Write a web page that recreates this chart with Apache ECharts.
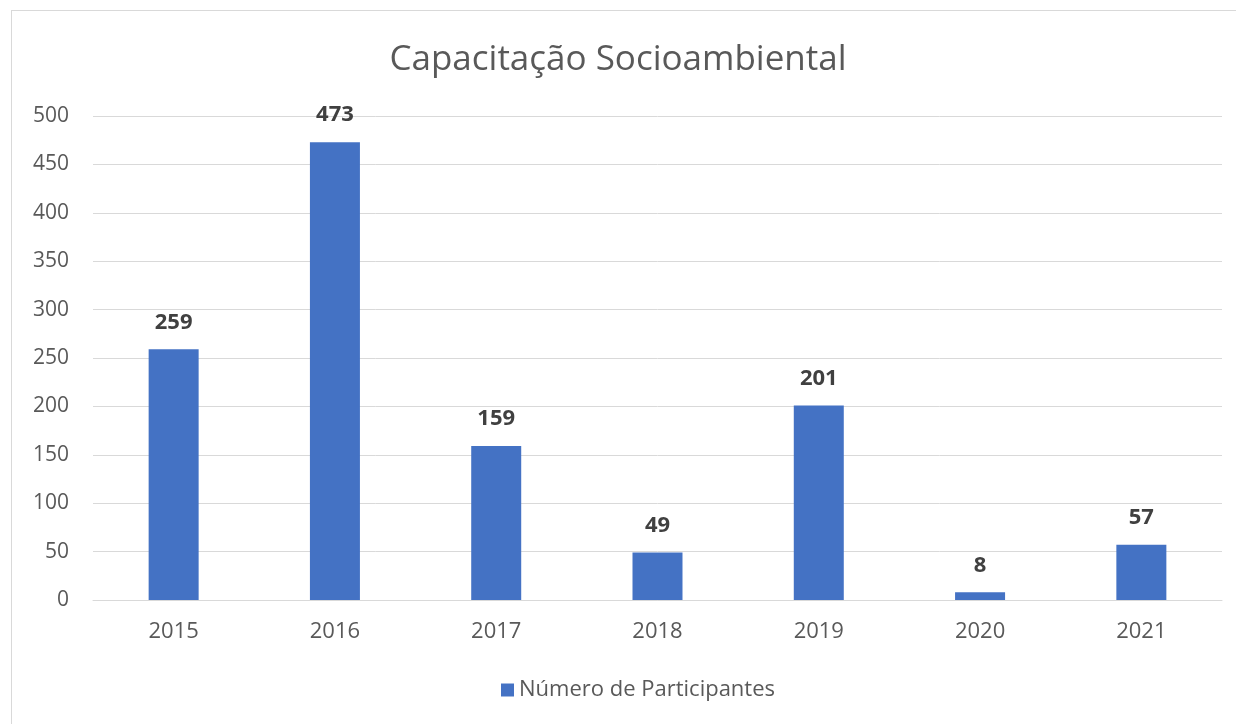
<!DOCTYPE html>
<html><head><meta charset="utf-8">
<script src="https://cdn.jsdelivr.net/npm/echarts@6/dist/echarts.min.js"></script>
<style>
html,body{margin:0;padding:0;background:#fff;overflow:hidden;}
#frame{position:absolute;left:11px;top:10px;width:1240px;height:730px;border-left:1px solid #d9d9d9;border-top:1px solid #d9d9d9;box-sizing:border-box;}
#c{position:absolute;left:0;top:0;width:1236px;height:724px;}
</style></head>
<body>
<div id="frame"></div>
<div id="c"></div>
<script>
const categories = ['2015','2016','2017','2018','2019','2020','2021'];
const participantes = [259, 473, 159, 49, 201, 8, 57];
const seriesName = 'Número de Participantes';
const chartTitle = 'Capacitação Socioambiental';
const font = 'Open Sans, Liberation Sans, sans-serif';

const chart = echarts.init(document.getElementById('c'), null, {renderer:'canvas'});
chart.setOption({
  animation:false,
  backgroundColor:'transparent',
  title:{text:chartTitle,left:'center',top:38,textStyle:{fontFamily:font,fontSize:35,fontWeight:'normal',color:'#595959'}},
  legend:{bottom:18,left:496,itemWidth:13,itemHeight:13,itemGap:8,icon:'rect',
    textStyle:{fontFamily:font,fontSize:22,color:'#595959'},data:[seriesName]},
  grid:{left:93,right:14,top:116,bottom:124,containLabel:false},
  xAxis:{type:'category',data:categories,
    axisLine:{show:true,lineStyle:{color:'#d9d9d9',width:1}},axisTick:{show:false},
    axisLabel:{fontFamily:font,fontSize:22,color:'#595959',margin:21}},
  yAxis:{type:'value',min:0,max:500,interval:50,
    axisLine:{show:false},axisTick:{show:false},
    splitLine:{lineStyle:{color:'#d9d9d9',width:1}},
    axisLabel:{fontFamily:font,fontSize:21,color:'#595959',margin:24}},
  series:[{name:seriesName,type:'bar',data:participantes,barWidth:'31%',
    itemStyle:{color:'#4472C4'},
    label:{show:true,position:'top',distance:16,fontFamily:font,fontSize:22,fontWeight:'bold',color:'#404040'}}]
});
</script>
</body></html>
